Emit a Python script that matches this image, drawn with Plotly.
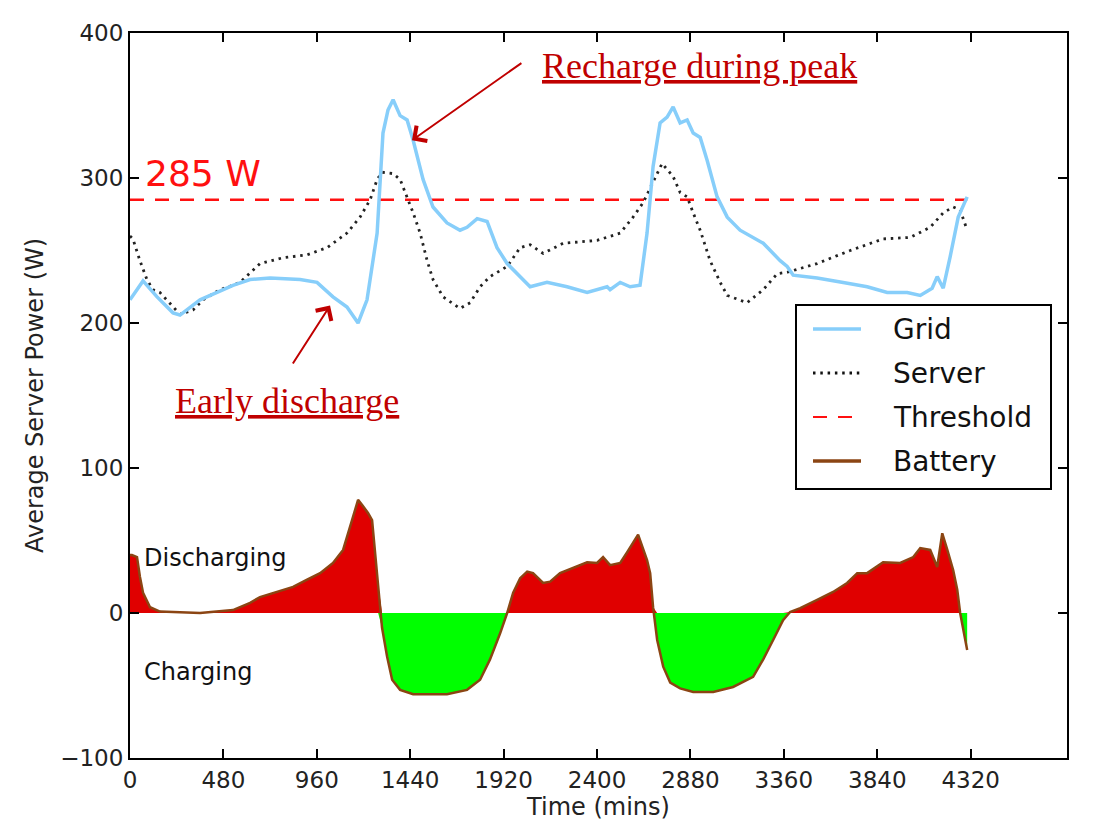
import plotly.graph_objects as go

# ---------------- data ----------------
grid_t = [0, 67, 139, 221, 257, 360, 529, 617, 720, 874, 961, 1043, 1115, 1172, 1218, 1270, 1300,
          1326, 1352, 1388, 1424, 1455, 1506, 1557, 1629, 1696, 1732, 1784, 1835, 1886, 1938, 2005,
          2056, 2143, 2246, 2349, 2452, 2467, 2519, 2570, 2621, 2657, 2688, 2724, 2760, 2791, 2827,
          2863, 2894, 2930, 2966, 3017, 3069, 3135, 3254, 3341, 3377, 3408, 3531, 3665, 3788, 3891,
          3994, 4061, 4122, 4148, 4179, 4215, 4256, 4302]
grid_w = [216, 229, 218, 207, 205.5, 216, 226, 230, 231, 230, 228, 218, 211, 200, 216, 262, 331,
          347, 354, 343, 340, 326, 299, 280, 269, 264, 266, 272, 270, 252, 241, 232,
          225, 228, 225, 221, 225, 223, 228, 225, 226, 262, 308, 338, 342, 349, 338,
          340, 331, 328, 312, 287, 273, 264, 255, 243, 239, 233, 231, 228, 225, 221,
          221, 219, 224, 232, 224, 246, 273, 287]

server_t = [0, 15, 51, 87, 118, 154, 257, 324, 375, 463, 529, 565, 668, 786, 910, 1013, 1115, 1182,
            1234, 1270, 1295, 1352, 1388, 1424, 1455, 1491, 1527, 1557, 1609, 1696, 1748, 1799, 1850,
            1938, 2005, 2056, 2123, 2226, 2400, 2519, 2585, 2637, 2688, 2734, 2760, 2791, 2827, 2863,
            2894, 2930, 2981, 3033, 3069, 3171, 3254, 3326, 3377, 3531, 3701, 3870, 4009, 4112, 4179,
            4230, 4266, 4302]
server_w = [260, 258, 243, 230, 223, 221, 206, 209, 216, 223, 226, 228, 241, 245, 247, 252, 262, 273,
            285, 299, 304, 303, 299, 287, 276, 262, 243, 230, 218, 210, 214, 225, 232,
            239, 252, 254, 248, 255, 257, 262, 273, 283, 297, 310, 306, 301, 290, 287,
            276, 264, 243, 228, 219, 214, 223, 234, 235, 241, 250, 258, 259, 266, 276,
            280, 278, 264]

battery_t = [0, 10, 36, 51, 67, 103, 154, 360, 529, 617, 668, 756, 838, 910, 977, 1043, 1095, 1141,
             1172, 1193, 1223, 1244, 1264, 1275, 1295, 1321, 1347, 1388, 1455, 1629, 1732, 1799, 1850,
             1902, 1938, 1969, 2005, 2041, 2071, 2123, 2159, 2210, 2277, 2349, 2400, 2431, 2467, 2519,
             2555, 2611, 2657, 2673, 2688, 2709, 2740, 2776, 2827, 2894, 2997, 3099, 3202, 3254, 3305,
             3356, 3392, 3444, 3531, 3613, 3685, 3737, 3788, 3870, 3958, 4025, 4061, 4112, 4148, 4174,
             4200, 4230, 4251, 4266, 4302]
battery_w = [40, 40, 38.6, 25, 14, 4, 1, 0, 2, 7, 11, 14.5, 18, 23, 27.5, 34.5, 43.5, 64,
             78, 74.5, 69, 64, 36.5, 20, -10, -30, -46, -53, -56, -56, -53, -46, -32,
             -14, 0, 14, 24, 28.6, 27.5, 20.7, 21.6, 27.5, 31, 35, 34.5, 38.6, 33, 34.5,
             42, 54, 36.5, 27.5, 4, -18.6, -37, -48, -52, -54.5, -54.5, -51, -44, -32, -18.6,
             -5, 0.7, 3.4, 9, 14.5, 20.7, 27.5, 27.5, 35, 34.5, 38.6, 44.8, 43.5, 31.7, 55,
             43.5, 29.7, 16, 0, -25.5]

threshold_value = 285
threshold_t = [0, 4302]

x_ticks = [0, 480, 960, 1440, 1920, 2400, 2880, 3360, 3840, 4320]
y_ticks = [-100, 0, 100, 200, 300, 400]
y_ticktext = ["\u2212100", "0", "100", "200", "300", "400"]

legend_names = ["Grid", "Server", "Threshold", "Battery"]

# ---------------- figure ----------------
FONT = "DejaVu Sans"
SERIF = "Liberation Serif"
DARKRED = "#C00000"
SERVER_DASH = "2.5px,4.8px"

fig = go.Figure()

bat_pos = [max(v, 0) for v in battery_w]
bat_neg = [min(v, 0) for v in battery_w]

fig.add_trace(go.Scatter(x=battery_t, y=bat_pos, mode="lines", line=dict(width=0),
                         fill="tozeroy", fillcolor="#E00000", showlegend=False, hoverinfo="skip"))
fig.add_trace(go.Scatter(x=battery_t, y=bat_neg, mode="lines", line=dict(width=0),
                         fill="tozeroy", fillcolor="#00FF00", showlegend=False, hoverinfo="skip"))
fig.add_trace(go.Scatter(x=battery_t, y=battery_w, mode="lines", name="Battery",
                         line=dict(color="#8B4513", width=2.5), showlegend=False))
fig.add_trace(go.Scatter(x=threshold_t, y=[threshold_value] * len(threshold_t), mode="lines",
                         name="Threshold", line=dict(color="#FF1010", width=2.5, dash="14px,11px"),
                         showlegend=False))
fig.add_trace(go.Scatter(x=server_t, y=server_w, mode="lines", name="Server",
                         line=dict(color="#222222", width=2.8, dash=SERVER_DASH), showlegend=False))
fig.add_trace(go.Scatter(x=grid_t, y=grid_w, mode="lines", name="Grid",
                         line=dict(color="#87CEFA", width=3.5), showlegend=False))

axis_common = dict(showline=True, linecolor="black", linewidth=2, mirror="ticks",
                   ticks="inside", ticklen=9, tickwidth=2, tickcolor="black",
                   showgrid=False, zeroline=False,
                   tickfont=dict(family=FONT, size=23, color="#222222"))

fig.update_xaxes(range=[0, 4815], tickvals=x_ticks, ticktext=[str(v) for v in x_ticks],
                 title=dict(text="Time (mins)", font=dict(family=FONT, size=24, color="#222222"),
                            standoff=4),
                 **axis_common)
fig.update_yaxes(range=[-100, 400], tickvals=y_ticks, ticktext=y_ticktext,
                 title=dict(text="Average Server Power (W)",
                            font=dict(family=FONT, size=24, color="#222222"), standoff=10),
                 **axis_common)

annotations = [
    dict(x=67, y=303, text="285 W", showarrow=False, xanchor="left", yanchor="middle",
         font=dict(family=FONT, size=36, color="#FF1010")),
    dict(x=62, y=38, text="Discharging", showarrow=False, xanchor="left", yanchor="middle",
         font=dict(family=FONT, size=24, color="#111111")),
    dict(x=62, y=-41, text="Charging", showarrow=False, xanchor="left", yanchor="middle",
         font=dict(family=FONT, size=24, color="#111111")),
    dict(x=2108, y=377, text="<u>Recharge during peak</u>", showarrow=False, xanchor="left",
         yanchor="middle", font=dict(family=SERIF, size=36, color=DARKRED)),
    dict(x=221, y=146, text="<u>Early discharge</u>", showarrow=False, xanchor="left",
         yanchor="middle", font=dict(family=SERIF, size=36, color=DARKRED)),
    dict(x=1449, y=326, ax=2019, ay=380, axref="x", ayref="y", text="", showarrow=True,
         arrowhead=4, arrowsize=1.8, arrowwidth=2, arrowcolor=DARKRED),
    dict(x=1028, y=212, ax=832, ay=171, axref="x", ayref="y", text="", showarrow=True,
         arrowhead=4, arrowsize=1.8, arrowwidth=2, arrowcolor=DARKRED),
]

# ---------------- custom legend (paper coordinates) ----------------
L, T, W, H = 130, 33, 937, 725
def px(xp):
    return (xp - L) / W
def py(yp):
    return (T + H - yp) / H

shapes = [dict(type="rect", xref="paper", yref="paper", x0=px(796), x1=px(1051),
               y0=py(489), y1=py(305), line=dict(color="black", width=2), fillcolor="white",
               layer="above")]
legend_styles = [
    dict(color="#87CEFA", width=3.5),
    dict(color="#111111", width=2.8, dash=SERVER_DASH),
    dict(color="#FF1010", width=2, dash="14px,11px"),
    dict(color="#8B4513", width=3.5),
]
legend_y = [329, 373, 417, 461]
for name, st, yy in zip(legend_names, legend_styles, legend_y):
    shapes.append(dict(type="line", xref="paper", yref="paper", x0=px(813), x1=px(861),
                       y0=py(yy), y1=py(yy), line=st, layer="above"))
    annotations.append(dict(xref="paper", yref="paper", x=px(891), y=py(yy), text=name,
                            showarrow=False, xanchor="left", yanchor="middle",
                            font=dict(family=FONT, size=28, color="#111111")))

fig.update_layout(width=1116, height=834, margin=dict(l=130, r=49, t=33, b=76),
                  paper_bgcolor="white", plot_bgcolor="white",
                  annotations=annotations, shapes=shapes, showlegend=False)

fig.write_html("out.html")
